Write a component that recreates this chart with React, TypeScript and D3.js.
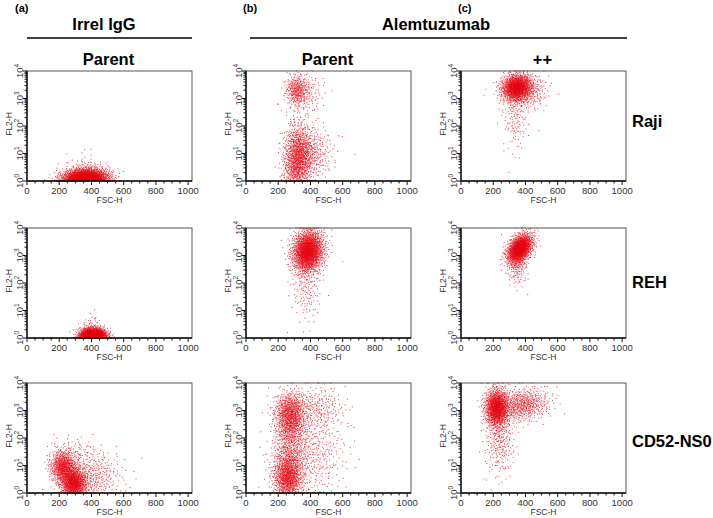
import { useMemo } from "react";
import * as d3 from "d3";

// Panel labels
const colLetters = ["(a)", "(b)", "(c)"];
const colSubtitles = ["Parent", "Parent", "++"];
const rowNames = ["Raji", "REH", "CD52-NS0"];
const xTicks = [0, 200, 400, 600, 800, 1000];
const yExponents = [0, 1, 2, 3, 4];

// Populations:
// [FSC-H centre, log10 FL2-H centre, sd FSC, sd log FL2, events, correlation]
type Cluster = [number, number, number, number, number, number];

const irrelRaji: Cluster[] = [
  [360, 0.05, 72, 0.2, 2800, 0.1],
  [350, 0.55, 60, 0.3, 40, 0],
];
const alemRaji: Cluster[] = [
  [315, 3.3, 35, 0.28, 300, 0],
  [380, 3.2, 55, 0.35, 120, 0],
  [320, 2.1, 40, 0.5, 50, 0],
  [325, 0.9, 45, 0.55, 900, 0],
  [400, 1.0, 70, 0.5, 350, 0],
  [300, 0.3, 40, 0.3, 150, 0],
];
const plusRaji: Cluster[] = [
  [345, 3.4, 45, 0.24, 1100, 0.1],
  [385, 3.3, 70, 0.32, 450, 0],
  [340, 2.3, 40, 0.55, 130, 0],
  [330, 1.0, 50, 0.4, 5, 0],
];

const irrelREH: Cluster[] = [
  [410, 0.05, 40, 0.15, 2300, 0],
  [400, 0.5, 30, 0.25, 30, 0],
];
const alemREH: Cluster[] = [
  [385, 3.15, 48, 0.38, 1900, 0.1],
  [375, 1.8, 45, 0.6, 150, 0],
];
const plusREH: Cluster[] = [
  [365, 3.25, 40, 0.27, 1400, 0.4],
  [350, 2.6, 32, 0.35, 150, 0],
];

const irrelNS0: Cluster[] = [
  [225, 0.95, 40, 0.3, 700, 0],
  [290, 0.35, 40, 0.28, 1000, 0],
  [400, 0.6, 95, 0.45, 400, 0],
  [300, 1.5, 80, 0.3, 80, 0],
];
const alemNS0: Cluster[] = [
  [275, 3.0, 50, 0.35, 600, 0],
  [275, 2.45, 45, 0.35, 400, 0],
  [260, 0.55, 45, 0.4, 900, 0],
  [270, 1.4, 55, 0.5, 400, 0],
  [400, 1.5, 110, 0.9, 500, 0],
  [450, 3.1, 80, 0.4, 200, 0],
];
const plusNS0: Cluster[] = [
  [222, 3.1, 37, 0.35, 1200, 0],
  [380, 3.2, 85, 0.3, 600, 0.2],
  [240, 2.0, 45, 0.6, 250, 0],
  [230, 1.0, 60, 0.5, 25, 0],
];

const panels: Cluster[][][] = [
  [irrelRaji, alemRaji, plusRaji],
  [irrelREH, alemREH, plusREH],
  [irrelNS0, alemNS0, plusNS0],
];

const colX = [27, 246, 461];
const rowY = [71, 228, 383];
const PW = 165;
const PH = 110;
const RED = "#e3000f";
const FONT = "Liberation Sans, Arial, sans-serif";

// deterministic low-discrepancy sequence used to spread each population
function halton(i: number, b: number) {
  let f = 1;
  let r = 0;
  while (i > 0) {
    f /= b;
    r += f * (i % b);
    i = Math.floor(i / b);
  }
  return r;
}

function events(clusters: Cluster[], seed: number) {
  const pts: [number, number][] = [];
  clusters.forEach(([cx, cy, sx, sy, n, rho], k) => {
    const off = 1 + seed * 7919 + k * 1543;
    for (let i = 0; i < n; i++) {
      const u1 = halton(off + i, 2);
      const u2 = halton(off + i, 3);
      const r = Math.sqrt(-2 * Math.log(u1));
      const z1 = r * Math.cos(2 * Math.PI * u2);
      const z2 = r * Math.sin(2 * Math.PI * u2);
      const x = Math.max(0, Math.min(1023, cx + sx * z1));
      const y = Math.max(0, Math.min(4, cy + sy * (rho * z1 + Math.sqrt(1 - rho * rho) * z2)));
      pts.push([x, Math.pow(10, y)]);
    }
  });
  return pts;
}

function Panel({ clusters, left, top, seed }: { clusters: Cluster[]; left: number; top: number; seed: number }) {
  const x = d3.scaleLinear().domain([0, 1024]).range([0, PW]);
  const y = d3.scaleLog().domain([1, 1e4]).range([PH, 0]);
  const pts = useMemo(() => events(clusters, seed), [clusters, seed]);
  const minorX = d3.range(0, 1001, 50);
  const minorY = y.ticks();

  return (
    <g transform={`translate(${left},${top})`}>
      {pts.map((p, i) => (
        <rect key={i} x={x(p[0]) - 0.5} y={y(p[1]) - 0.5} width={1} height={1} fill={RED} opacity={0.75} />
      ))}
      <rect x={0} y={0} width={PW} height={PH} fill="none" stroke="#555" strokeWidth={1} />
      <line x1={0} x2={PW} y1={PH} y2={PH} stroke="#111" strokeWidth={1.4} />
      <line x1={0} x2={0} y1={0} y2={PH} stroke="#111" strokeWidth={1.4} />
      {minorX.map((t) => (
        <line key={"mx" + t} x1={x(t)} x2={x(t)} y1={PH} y2={PH + (t % 200 === 0 ? 4 : 2.5)} stroke="#111" strokeWidth={1} />
      ))}
      {xTicks.map((t) => (
        <text key={"xt" + t} x={x(t)} y={PH + 13} textAnchor="middle" fontSize={9.5} fontFamily={FONT} fill="#333">
          {t}
        </text>
      ))}
      <text x={PW / 2} y={PH + 22} textAnchor="middle" fontSize={8.5} fontFamily={FONT} fill="#333">
        FSC-H
      </text>
      {minorY.map((t, i) => {
        const major = Math.abs(Math.log10(t) - Math.round(Math.log10(t))) < 1e-9;
        return <line key={"my" + i} x1={-(major ? 4 : 2.5)} x2={0} y1={y(t)} y2={y(t)} stroke="#111" strokeWidth={1} />;
      })}
      {yExponents.map((e) => (
        <text
          key={"yt" + e}
          transform={`translate(${-4},${y(Math.pow(10, e))}) rotate(-90)`}
          textAnchor="middle"
          fontSize={9.5}
          fontFamily={FONT}
          fill="#333"
        >
          10
          <tspan dy={-4} fontSize={6.5}>
            {e}
          </tspan>
        </text>
      ))}
      <text transform={`translate(${-15},${PH / 2 - 2}) rotate(-90)`} textAnchor="middle" fontSize={8.5} fontFamily={FONT} fill="#333">
        FL2-H
      </text>
    </g>
  );
}

export default function App() {
  return (
    <svg width={713} height={518} style={{ position: "absolute", left: 0, top: 0, background: "#fff" }}>
      <g fontFamily={FONT} fontWeight="bold" fill="#000">
        <text x={15} y={12} fontSize={11}>{colLetters[0]}</text>
        <text x={243} y={12} fontSize={11}>{colLetters[1]}</text>
        <text x={458} y={12} fontSize={11}>{colLetters[2]}</text>
        <text x={104} y={30} fontSize={16.5} textAnchor="middle">Irrel IgG</text>
        <text x={436} y={30} fontSize={16.5} textAnchor="middle">Alemtuzumab</text>
        {colSubtitles.map((s, c) => (
          <text key={c} x={colX[c] + PW / 2 - 1} y={65} fontSize={16.5} textAnchor="middle">
            {s}
          </text>
        ))}
        {rowNames.map((r, i) => (
          <text key={r} x={632} y={rowY[i] + [56, 60, 64][i]} fontSize={16.5}>
            {r}
          </text>
        ))}
      </g>
      <line x1={27} x2={192} y1={38} y2={38} stroke="#000" strokeWidth={1.5} />
      <line x1={250} x2={627} y1={38} y2={38} stroke="#000" strokeWidth={1.5} />
      {panels.map((row, r) =>
        row.map((cl, c) => <Panel key={`${r}-${c}`} clusters={cl} left={colX[c]} top={rowY[r]} seed={r * 3 + c} />)
      )}
    </svg>
  );
}
